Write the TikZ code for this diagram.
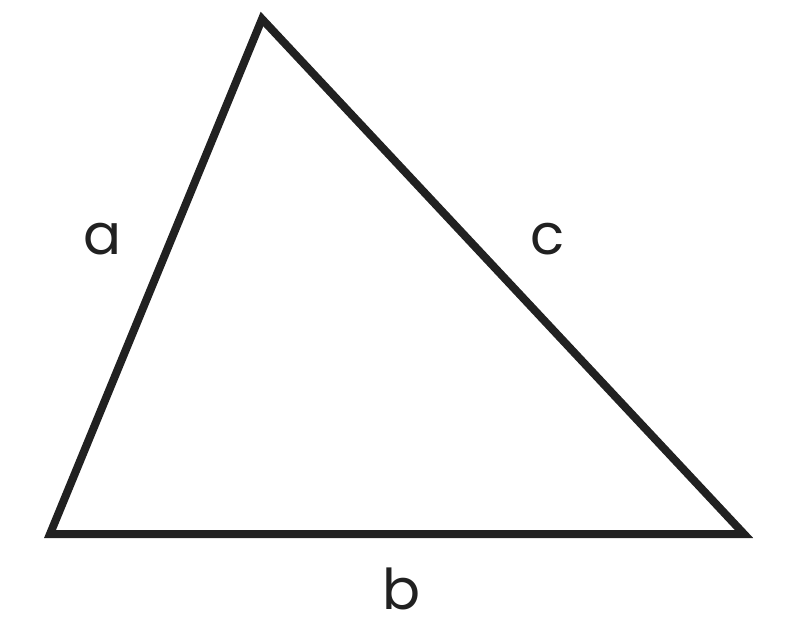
\documentclass[tikz,border=0pt]{standalone}
\usepackage{fontspec}
\setmainfont{Poppins}
\usepackage{tikz}

\tikzset{sidelabel/.style={anchor=base, inner sep=0pt, font=\fontsize{40}{40}\selectfont, color=black!87}}

\begin{document}
\begin{tikzpicture}[x=0.025cm, y=-0.025cm]
    \useasboundingbox (0,0) rectangle (800,620) ;
    \coordinate (A) at (50,534) ;
    \coordinate (B) at (262,19) ;
    \coordinate (C) at (744,534) ;
    \draw[line width=0.2cm, color=black!87, line join=miter] (A) -- (B) -- (C) -- cycle ;
    \node[sidelabel] at (103,254) (labA) {a} ;
    \node[sidelabel] at (548,254) (labC) {c} ;
    \node[sidelabel] at (402,609) (labB) {b} ;
  \end{tikzpicture}
\end{document}
